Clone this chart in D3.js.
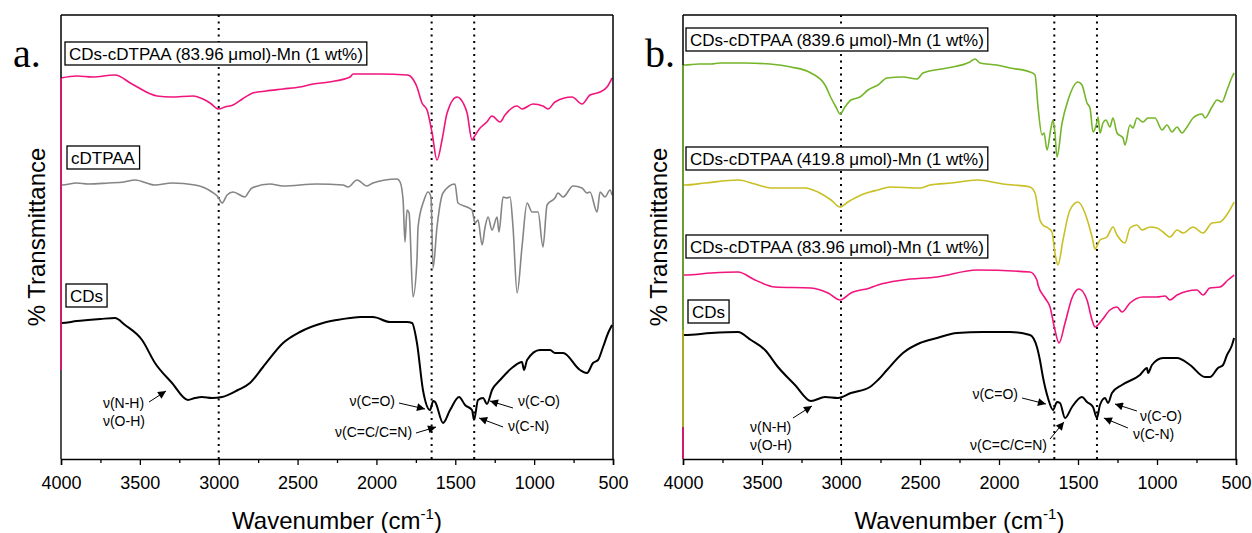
<!DOCTYPE html>
<html><head><meta charset="utf-8">
<script src="https://cdn.jsdelivr.net/npm/d3@7"></script>
<style>
body{margin:0;background:#fff}
text{font-family:Arial,"Liberation Sans",sans-serif;fill:#000}
</style>
</head><body>
<svg id="c" width="1252" height="533"></svg>
<script>
// ---------------- DATA ----------------
const xTickValues = [4000,3750,3500,3250,3000,2750,2500,2250,2000,1750,1500,1250,1000,750,500];
const xTickLabels = [4000,3500,3000,2500,2000,1500,1000,500];
const refLines = [3000,1650,1380];

const seriesNamesA = ["CDs-cDTPAA (83.96 μmol)-Mn (1 wt%)","cDTPAA","CDs"];
const seriesNamesB = ["CDs-cDTPAA (839.6 μmol)-Mn (1 wt%)","CDs-cDTPAA (419.8 μmol)-Mn (1 wt%)","CDs-cDTPAA (83.96 μmol)-Mn (1 wt%)","CDs"];

// panel a: [wavenumber, transmittance (a.u., offset)]
const aMn84 = [[4000,381],[3900,383],[3800,382],[3658,384],[3550,375],[3391,363],[3300,362],[3163,363],[3100,360],[3055,356],[3000,350],[2960,352],[2909,354],[2850,360],[2783,366],[2700,368],[2592,370],[2485,372],[2400,375],[2300,377],[2167,382],[2148,385],[2050,385],[1977,385],[1806,384],[1787,383],[1743,372],[1711,356],[1679,349],[1647,326],[1616,299],[1584,319],[1552,346],[1489,362],[1450,356],[1425,346],[1394,319],[1381,322],[1343,331],[1300,337],[1267,343],[1216,337],[1185,344],[1108,353],[1077,350],[1007,355],[944,353],[912,350],[868,357],[760,362],[696,355],[646,364],[582,367],[538,372],[506,381]];
const aCdtpaa = [[4000,274],[3994,274],[3900,276],[3829,275],[3700,276],[3600,277],[3531,279],[3404,274],[3296,276],[3150,274],[3043,267],[3004,262],[2979,256],[2947,264],[2909,267],[2833,262],[2814,266],[2789,271],[2675,275],[2592,273],[2377,275],[2212,274],[2180,272],[2123,279],[2060,273],[2022,276],[1869,280],[1850,277],[1831,259],[1819,217],[1806,249],[1793,246],[1768,162],[1743,199],[1736,232],[1700,258],[1673,267],[1654,262],[1641,191],[1616,232],[1578,266],[1502,275],[1483,256],[1426,252],[1394,249],[1375,236],[1356,239],[1330,214],[1311,232],[1292,242],[1267,229],[1235,242],[1223,227],[1197,262],[1172,261],[1153,262],[1134,232],[1108,166],[1077,212],[1045,256],[1013,247],[975,247],[944,212],[918,254],[868,261],[849,266],[817,262],[753,273],[696,271],[665,266],[646,267],[601,247],[582,267],[551,262],[519,269],[506,264]];
const aCds = [[4000,136],[3994,136],[3900,138],[3829,139],[3750,140],[3658,141],[3594,134],[3486,119],[3404,96],[3296,76],[3195,59],[3150,61],[3106,62],[3043,61],[2979,62],[2878,69],[2802,76],[2719,92],[2592,116],[2485,127],[2339,136],[2250,139],[2167,141],[2100,142],[2022,142],[1914,137],[1806,137],[1774,136],[1743,116],[1705,69],[1660,49],[1640,58],[1628,57],[1578,36],[1533,49],[1476,62],[1438,54],[1394,49],[1381,39],[1356,59],[1324,61],[1299,55],[1267,69],[1216,79],[1134,92],[1077,97],[1064,89],[1045,99],[963,109],[899,109],[868,106],[817,106],[709,89],[665,86],[627,96],[595,99],[563,112],[531,126],[506,134]];

// panel b
const bMn840 = [[4000,394],[3987,394],[3900,395],[3823,395],[3766,396],[3608,396],[3450,395],[3316,392],[3190,386],[3101,374],[3063,361],[3032,352],[3006,345],[2975,352],[2937,359],[2880,362],[2829,369],[2766,374],[2709,381],[2608,382],[2519,380],[2481,386],[2329,391],[2184,397],[2152,400],[2120,396],[2013,394],[1930,391],[1804,387],[1772,384],[1753,352],[1728,324],[1715,326],[1696,309],[1671,331],[1658,339],[1646,326],[1633,302],[1601,336],[1563,359],[1500,377],[1475,374],[1443,356],[1424,351],[1405,327],[1380,337],[1373,342],[1361,326],[1342,336],[1323,339],[1298,332],[1279,341],[1253,326],[1215,321],[1203,314],[1171,334],[1152,331],[1127,341],[1089,337],[1057,341],[1013,341],[968,329],[937,334],[905,327],[873,332],[842,326],[810,332],[772,341],[715,345],[696,341],[652,352],[620,359],[589,357],[557,369],[525,382],[512,386]];
const bMn420 = [[4000,274],[3987,274],[3861,276],[3652,279],[3544,275],[3443,271],[3228,271],[3146,267],[3063,259],[3006,252],[2956,257],[2873,264],[2817,267],[2766,269],[2690,272],[2500,271],[2437,274],[2300,276],[2139,279],[1975,275],[1804,272],[1772,266],[1741,239],[1722,234],[1690,231],[1665,227],[1646,206],[1627,194],[1595,219],[1551,249],[1500,257],[1456,246],[1437,237],[1411,222],[1392,210],[1361,219],[1317,222],[1279,232],[1253,224],[1203,216],[1171,231],[1127,234],[1095,229],[1044,232],[1000,231],[962,227],[918,222],[873,229],[835,226],[772,232],[709,226],[652,236],[601,237],[551,246],[512,257]];
const bMn84 = [[4000,184],[3987,184],[3823,186],[3652,187],[3544,179],[3418,172],[3190,171],[3082,166],[3006,159],[2937,166],[2817,171],[2766,174],[2608,179],[2392,182],[2139,189],[1804,187],[1760,179],[1753,174],[1709,161],[1677,152],[1646,129],[1620,116],[1582,136],[1538,161],[1494,170],[1443,159],[1411,139],[1392,132],[1348,139],[1298,149],[1253,152],[1222,147],[1171,156],[1089,162],[1000,162],[949,163],[918,159],[873,164],[747,169],[709,164],[665,171],[601,172],[551,179],[512,184]];
const bCds = [[4000,124],[3987,124],[3823,126],[3652,127],[3570,119],[3481,109],[3399,92],[3291,74],[3190,58],[3101,62],[3019,61],[2937,66],[2817,72],[2766,79],[2709,89],[2608,106],[2500,116],[2392,121],[2266,126],[2101,127],[1930,127],[1804,124],[1760,112],[1741,99],[1722,82],[1690,61],[1658,49],[1633,57],[1614,56],[1582,41],[1538,52],[1475,62],[1443,57],[1405,52],[1380,41],[1361,54],[1329,61],[1310,56],[1285,66],[1222,74],[1108,84],[1063,91],[1057,86],[1032,94],[962,101],[873,101],[791,94],[696,82],[665,82],[614,91],[582,94],[557,104],[525,114],[512,121]];

// annotations: text lines, text anchor point (wavenumber, value), arrow tail & tip
const annotA = [
 {lines:["ν(N-H)","ν(O-H)"], anchor:"start", tw:3734, tv:51, from:[3442,57], to:[3334,68]},
 {lines:["ν(C=O)"], anchor:"end", tw:1882, tv:53, from:[1857,56], to:[1692,50]},
 {lines:["ν(C=C/C=N)"], anchor:"end", tw:1774, tv:22, from:[1749,26], to:[1622,32]},
 {lines:["ν(C-O)"], anchor:"start", tw:1102, tv:53, from:[1134,51], to:[1280,58]},
 {lines:["ν(C-N)"], anchor:"start", tw:1166, tv:28, from:[1197,32], to:[1349,41]}
];
const annotB = [
 {lines:["ν(N-H)","ν(O-H)"], anchor:"start", tw:3576, tv:27, from:[3304,41], to:[3184,53]},
 {lines:["ν(C=O)"], anchor:"end", tw:1880, tv:60, from:[1854,61], to:[1703,55]},
 {lines:["ν(C=C/C=N)"], anchor:"end", tw:1696, tv:9, from:[1677,20], to:[1589,37]},
 {lines:["ν(C-O)"], anchor:"start", tw:1108, tv:38, from:[1127,48], to:[1266,55]},
 {lines:["ν(C-N)"], anchor:"start", tw:1152, tv:20, from:[1184,31], to:[1336,41]}
];

// ---------------- DRAW ----------------
const svg = d3.select("#c");
svg.append("rect").attr("width",1252).attr("height",533).attr("fill","#fff");

const COL = {pink:"#f0147c", gray:"#858585", black:"#000", green:"#74b52a", olive:"#c8c024"};

svg.append("defs").append("marker").attr("id","ah")
  .attr("viewBox","0 0 10 10").attr("refX",10).attr("refY",5)
  .attr("markerWidth",9).attr("markerHeight",8).attr("markerUnits","userSpaceOnUse")
  .attr("orient","auto")
  .append("path").attr("d","M0,0L10,5L0,10Z").attr("fill","#000");

const panels = [
 {x0:61, x1:613, letter:"a.", letterX:13, titleX:45,
  series:[{name:seriesNamesA[0],data:aMn84,color:COL.pink,w:1.6},
          {name:seriesNamesA[1],data:aCdtpaa,color:COL.gray,w:1.6},
          {name:seriesNamesA[2],data:aCds,color:COL.black,w:2}],
  boxes:[{i:0,x:65,y:42},{i:1,x:67,y:146},{i:2,x:66,y:284}],
  tint:[{c:COL.pink,from:381,to:89},{c:"#555",from:89,to:0}],
  annots:annotA},
 {x0:683, x1:1236, letter:"b.", letterX:645, titleX:667,
  series:[{name:seriesNamesB[0],data:bMn840,color:COL.green,w:1.6},
          {name:seriesNamesB[1],data:bMn420,color:COL.olive,w:1.6},
          {name:seriesNamesB[2],data:bMn84,color:COL.pink,w:1.6},
          {name:seriesNamesB[3],data:bCds,color:COL.black,w:2}],
  boxes:[{i:0,x:686,y:28},{i:1,x:686,y:147},{i:2,x:686,y:235},{i:3,x:688,y:300}],
  tint:[{c:COL.green,from:394,to:129},{c:COL.olive,from:129,to:32},{c:COL.pink,from:32,to:0}],
  annots:annotB}
];

const yTop = 15, yBot = 459;

panels.forEach(p => {
  const x = d3.scaleLinear().domain([4000,500]).range([p.x0,p.x1]);
  const y = d3.scaleLinear().domain([0,444]).range([yBot,yTop]);
  const g = svg.append("g");

  // reference dotted lines
  g.selectAll(".ref").data(refLines).join("line").attr("class","ref")
    .attr("x1",d=>x(d)).attr("x2",d=>x(d)).attr("y1",yTop).attr("y2",yBot)
    .attr("stroke","#000").attr("stroke-width",2).attr("stroke-dasharray","2,4.5");

  // traces
  const line = d3.line().x(d=>x(d[0])).y(d=>y(d[1])).curve(d3.curveMonotoneX);
  g.selectAll(".tr").data(p.series).join("path").attr("class","tr")
    .attr("d",d=>line(d.data)).attr("fill","none")
    .attr("stroke",d=>d.color).attr("stroke-width",d=>d.w).attr("stroke-linejoin","round");

  // frame
  g.append("line").attr("x1",p.x0).attr("x2",p.x1).attr("y1",yTop).attr("y2",yTop).attr("stroke","#000").attr("stroke-width",1.5);
  g.append("line").attr("x1",p.x1).attr("x2",p.x1).attr("y1",yTop).attr("y2",yBot).attr("stroke","#000").attr("stroke-width",1.5);
  g.append("line").attr("x1",p.x0).attr("x2",p.x0).attr("y1",yTop).attr("y2",yBot).attr("stroke","#000").attr("stroke-width",1.5);
  p.tint.forEach(t => {
    g.append("line").attr("x1",p.x0).attr("x2",p.x0).attr("y1",y(t.from)).attr("y2",y(t.to))
      .attr("stroke",t.c).attr("stroke-width",1.6);
  });

  // bottom axis
  const ax = g.append("g").attr("transform",`translate(0,${yBot})`)
    .call(d3.axisBottom(x).tickValues(xTickValues).tickSize(6).tickPadding(11)
      .tickFormat(d => xTickLabels.includes(d) ? d : ""));
  ax.select(".domain").attr("stroke-width",1.5);
  ax.selectAll(".tick line").attr("stroke-width",1.3)
    .attr("y2",d => xTickLabels.includes(d) ? 6 : 4);
  ax.selectAll(".tick text").attr("font-size",18).attr("font-family","Arial, 'Liberation Sans', sans-serif").attr("fill","#000");

  // axis titles
  const xt = g.append("text").attr("x",(p.x0+p.x1)/2).attr("y",529).attr("text-anchor","middle").attr("font-size",24);
  xt.append("tspan").text("Wavenumber (cm");
  xt.append("tspan").attr("font-size",15).attr("dy",-10).text("-1");
  xt.append("tspan").attr("dy",10).text(")");

  g.append("text").attr("transform",`translate(${p.titleX},${(yTop+yBot)/2}) rotate(-90)`)
    .attr("text-anchor","middle").attr("font-size",24).text("% Transmittance");

  // panel letter
  g.append("text").attr("x",p.letterX).attr("y",67).attr("font-size",40)
    .style("font-family","'Liberation Serif','Times New Roman',serif").text(p.letter);

  // boxed series labels
  p.boxes.forEach(b => {
    const lg = g.append("g");
    const r = lg.append("rect");
    const t = lg.append("text").attr("x",b.x+4).attr("y",b.y+17.5).attr("font-size",17).text(p.series[b.i].name);
    const bb = t.node().getBBox();
    r.attr("x",b.x).attr("y",b.y).attr("width",bb.width+8).attr("height",23)
      .attr("fill","#fff").attr("stroke","#000").attr("stroke-width",1.3);
  });

  // annotations
  p.annots.forEach(a => {
    g.append("line").attr("x1",x(a.from[0])).attr("y1",y(a.from[1]))
      .attr("x2",x(a.to[0])).attr("y2",y(a.to[1]))
      .attr("stroke","#000").attr("stroke-width",1).attr("marker-end","url(#ah)");
    a.lines.forEach((l,i) => {
      g.append("text").attr("x",x(a.tw)).attr("y",y(a.tv)+i*18).attr("text-anchor",a.anchor)
        .attr("font-size",14).text(l);
    });
  });
});
</script>
</body></html>
